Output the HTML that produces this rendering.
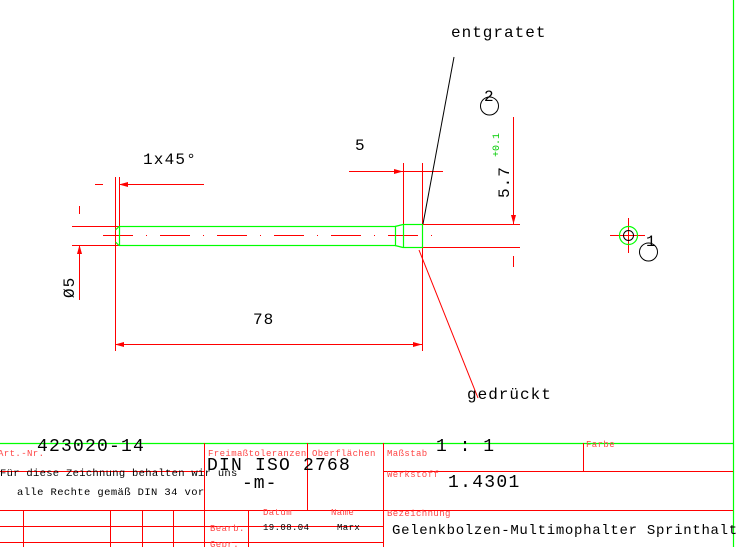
<!DOCTYPE html>
<html><head><meta charset="utf-8"><style>
html,body{margin:0;padding:0;background:#fff;width:737px;height:547px;overflow:hidden}
svg{display:block}
text{font-family:"Liberation Mono","DejaVu Sans Mono",monospace}
</style></head><body>
<svg width="737" height="547" viewBox="0 0 737 547" xmlns="http://www.w3.org/2000/svg">
<g stroke="#f00" stroke-width="1" fill="none">
<line x1="115.5" y1="177" x2="115.5" y2="351"/>
<line x1="119.5" y1="177" x2="119.5" y2="226"/>
<line x1="95" y1="184.5" x2="103" y2="184.5"/>
<line x1="119" y1="184.5" x2="204" y2="184.5"/>
<line x1="72" y1="226.5" x2="119" y2="226.5"/>
<line x1="72" y1="245.5" x2="119" y2="245.5"/>
<line x1="79.5" y1="206" x2="79.5" y2="214"/>
<line x1="79.5" y1="245" x2="79.5" y2="300"/>
<line x1="103" y1="235.5" x2="440" y2="235.5" stroke-dasharray="30,13,1,13"/>
<line x1="115" y1="344.5" x2="422" y2="344.5"/>
<line x1="422.5" y1="163" x2="422.5" y2="351"/>
<line x1="403.5" y1="163" x2="403.5" y2="224"/>
<line x1="349" y1="171.5" x2="443" y2="171.5"/>
<line x1="422" y1="224.5" x2="520" y2="224.5"/>
<line x1="422" y1="247.5" x2="520" y2="247.5"/>
<line x1="513.5" y1="117" x2="513.5" y2="224"/>
<line x1="513.5" y1="256" x2="513.5" y2="267"/>
<line x1="419" y1="250" x2="478" y2="398"/>
<line x1="610" y1="235.5" x2="645" y2="235.5"/>
<line x1="628.5" y1="218" x2="628.5" y2="253"/>
</g>
<g fill="#f00">
<polygon points="119,184.5 128,182 128,187"/>
<polygon points="79.5,245 77,254 82,254"/>
<polygon points="115,344.5 124,342 124,347"/>
<polygon points="422,344.5 413,342 413,347"/>
<polygon points="403,171.5 394,169 394,174"/>
<polygon points="513.5,224 511,215 516,215"/>
</g>
<g stroke="#0f0" stroke-width="1.2" fill="none">
<rect x="119.5" y="226.5" width="276" height="19"/>
<rect x="403.5" y="224.5" width="19" height="23"/>
<line x1="395" y1="226.5" x2="403" y2="224.5"/>
<line x1="395" y1="245.5" x2="403" y2="247.5"/>
<line x1="119" y1="226.5" x2="115.5" y2="230"/>
<line x1="119" y1="245.5" x2="115.5" y2="242"/>
<circle cx="628.5" cy="235.5" r="9"/>
</g>
<g stroke="#000" fill="none">
<line x1="454" y1="57" x2="423" y2="224"/>
<circle cx="489.5" cy="106" r="9"/>
<circle cx="648.5" cy="252" r="9"/>
<circle cx="628.5" cy="235.5" r="5"/>
</g>
<g fill="#000" font-size="16">
<text x="451" y="37" letter-spacing="1">entgratet</text>
<text x="143" y="164" letter-spacing="1.2">1x45°</text>
<text x="355" y="150">5</text>
<text x="253" y="324" letter-spacing="1">78</text>
<text x="467" y="399" letter-spacing="1">gedrückt</text>
<text x="484" y="101">2</text>
<text x="646" y="246">1</text>
<text transform="translate(509,198) rotate(-90)" letter-spacing="1">5.7</text>
<text transform="translate(74,298) rotate(-90)" letter-spacing="1">Ø5</text>
</g>
<text transform="translate(499,157) rotate(-90)" fill="#0c0" font-size="10">+0.1</text>
<g stroke="#0f0" stroke-width="1.2">
<line x1="0" y1="443.5" x2="733" y2="443.5"/>
<line x1="733.5" y1="0" x2="733.5" y2="547"/>
</g>
<g stroke="#f00" stroke-width="1">
<line x1="0" y1="471.5" x2="204" y2="471.5"/>
<line x1="383" y1="471.5" x2="733" y2="471.5"/>
<line x1="0" y1="510.5" x2="733" y2="510.5"/>
<line x1="0" y1="526.5" x2="383" y2="526.5"/>
<line x1="0" y1="542.5" x2="383" y2="542.5"/>
<line x1="204.5" y1="443" x2="204.5" y2="547"/>
<line x1="307.5" y1="443" x2="307.5" y2="510"/>
<line x1="383.5" y1="443" x2="383.5" y2="547"/>
<line x1="583.5" y1="443" x2="583.5" y2="471"/>
<line x1="23.5" y1="510" x2="23.5" y2="547"/>
<line x1="110.5" y1="510" x2="110.5" y2="547"/>
<line x1="142.5" y1="510" x2="142.5" y2="547"/>
<line x1="173.5" y1="510" x2="173.5" y2="547"/>
<line x1="248.5" y1="510" x2="248.5" y2="547"/>
</g>
<g fill="#f44" font-size="9" letter-spacing="0.4">
<text x="-2" y="456">Art.-Nr.</text>
<text x="208" y="456">Freimaßtoleranzen</text>
<text x="312" y="456">Oberflächen</text>
<text x="387" y="456">Maßstab</text>
<text x="586" y="447">Farbe</text>
<text x="387" y="477">Werkstoff</text>
<text x="387" y="516">Bezeichnung</text>
<text x="263" y="515">Datum</text>
<text x="331" y="515">Name</text>
<text x="210" y="531">Bearb.</text>
<text x="210" y="547">Gepr.</text>
</g>
<g fill="#000">
<text x="37" y="451" font-size="18" letter-spacing="1.2">423020-14</text>
<text x="0" y="476" font-size="10.5" letter-spacing="0.3">Für diese Zeichnung behalten wir uns</text>
<text x="17" y="495" font-size="10.5" letter-spacing="0.4">alle Rechte gemäß DIN 34 vor</text>
<text x="207" y="470" font-size="18" letter-spacing="1.2">DIN ISO 2768</text>
<text x="242" y="488" font-size="18" letter-spacing="1">-m-</text>
<text x="436" y="451" font-size="18" letter-spacing="1">1 : 1</text>
<text x="448" y="487" font-size="18" letter-spacing="1.3">1.4301</text>
<text x="263" y="530" font-size="9" letter-spacing="0.4">19.08.04</text>
<text x="337" y="530" font-size="9" letter-spacing="0.4">Marx</text>
<text x="392" y="534" font-size="14" letter-spacing="0.7">Gelenkbolzen-Multimophalter Sprinthalt</text>
</g>
</svg>
</body></html>
